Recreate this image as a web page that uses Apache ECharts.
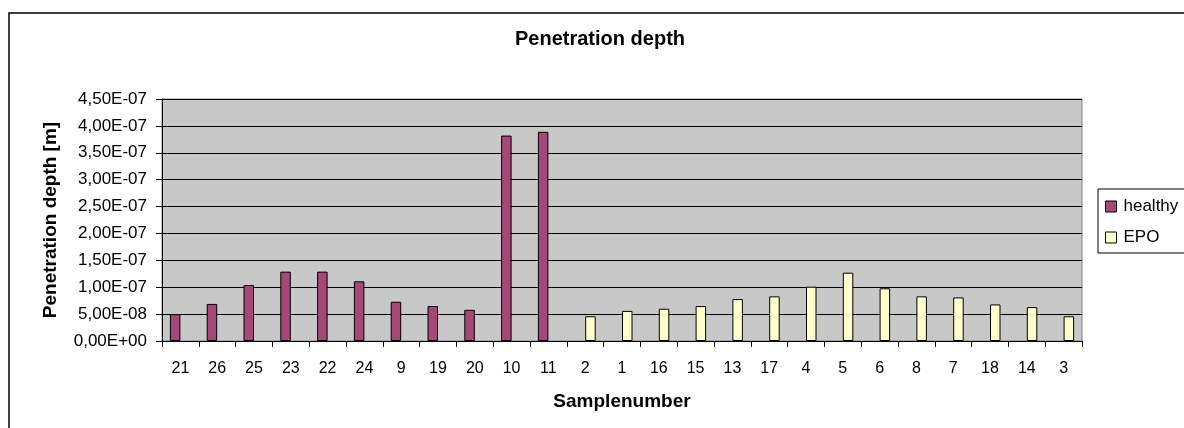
<!DOCTYPE html>
<html>
<head>
    <meta charset="utf-8">
    <title>Penetration depth</title>
    <script src="https://cdn.jsdelivr.net/npm/echarts@6/dist/echarts.min.js"></script>
    <style>
        html, body { margin: 0; padding: 0; background: #fff; }
        #main { width: 1184px; height: 428px; }
    </style>
</head>
<body>
<div id="main"></div>
<script>
    // sample numbers, in the order they appear on the x axis
    var categories = ['21', '26', '25', '23', '22', '24', '9', '19', '20', '10', '11',
        '2', '1', '16', '15', '13', '17', '4', '5', '6', '8', '7', '18', '14', '3'];
    // penetration depth [m]
    var healthy = [5.0e-8, 6.9e-8, 1.04e-7, 1.29e-7, 1.29e-7, 1.11e-7, 7.3e-8, 6.5e-8, 5.8e-8, 3.82e-7, 3.89e-7,
        null, null, null, null, null, null, null, null, null, null, null, null, null, null];
    var epo = [null, null, null, null, null, null, null, null, null, null, null,
        4.6e-8, 5.6e-8, 6.0e-8, 6.5e-8, 7.8e-8, 8.3e-8, 1.01e-7, 1.27e-7, 9.8e-8, 8.3e-8, 8.1e-8, 6.8e-8, 6.3e-8, 4.6e-8];
    var yMin = 0, yMax = 4.5e-7, yStep = 5e-8;

    var font = '"Liberation Sans", Arial, sans-serif';

    // excel style 0,00E+00
    function sciLabel(v) {
        var parts = Number(v).toExponential(2).split('e');
        var exp = parseInt(parts[1], 10);
        var sign = exp < 0 ? '-' : '+';
        var e = Math.abs(exp);
        return parts[0].replace('.', ',') + 'E' + sign + (e < 10 ? '0' + e : e);
    }

    var myChart = echarts.init(document.getElementById('main'), null, {renderer: 'canvas'});

    var option = {
        backgroundColor: '#fff',
        animation: false,
        textStyle: {fontFamily: font},
        graphic: [{
            type: 'rect',
            shape: {x: 9, y: 13, width: 1300, height: 600},
            style: {fill: 'none', stroke: '#000', lineWidth: 1.5},
            silent: true
        }],
        title: {
            text: 'Penetration depth',
            left: 515,
            top: 29,
            padding: 0,
            textStyle: {fontFamily: font, fontSize: 20, fontWeight: 'bold', color: '#000', lineHeight: 20}
        },
        legend: {
            orient: 'vertical',
            left: 1098,
            top: 189,
            padding: [9, 30, 7, 7],
            itemWidth: 11,
            itemHeight: 11,
            itemGap: 14,
            borderColor: '#000',
            borderWidth: 1,
            backgroundColor: '#fff',
            textStyle: {fontFamily: font, fontSize: 17, color: '#000', lineHeight: 16, padding: [0, 0, 0, 2]},
            data: [
                {name: 'healthy', icon: 'rect', itemStyle: {borderColor: '#000', borderWidth: 1}},
                {name: 'EPO', icon: 'rect', itemStyle: {borderColor: '#000', borderWidth: 1}}
            ]
        },
        grid: {
            left: 162,
            right: 102,
            top: 99,
            bottom: 87,
            show: true,
            backgroundColor: '#C8C8C8',
            borderColor: '#808080',
            borderWidth: 1
        },
        xAxis: {
            type: 'category',
            data: categories,
            name: 'Samplenumber',
            nameLocation: 'middle',
            nameGap: 51,
            nameTextStyle: {fontFamily: font, fontSize: 19, fontWeight: 'bold', color: '#000'},
            axisLine: {lineStyle: {color: '#000', width: 1}},
            axisTick: {show: true, length: 6, interval: 0, lineStyle: {color: '#000'}},
            axisLabel: {fontFamily: font, fontSize: 16, color: '#000', margin: 20, interval: 0, lineHeight: 16}
        },
        yAxis: {
            type: 'value',
            min: yMin,
            max: yMax,
            interval: yStep,
            name: 'Penetration depth [m]',
            nameLocation: 'middle',
            nameGap: 102,
            nameTextStyle: {fontFamily: font, fontSize: 19, fontWeight: 'bold', color: '#000'},
            axisLine: {show: true, lineStyle: {color: '#000', width: 1}},
            axisTick: {show: true, length: 6, lineStyle: {color: '#000'}},
            axisLabel: {fontFamily: font, fontSize: 17, color: '#000', margin: 15, formatter: sciLabel},
            splitLine: {show: true, lineStyle: {color: '#000', width: 1}}
        },
        series: [
            {
                name: 'healthy',
                type: 'bar',
                data: healthy,
                barWidth: 10.5,
                barGap: '0%',
                itemStyle: {color: '#A34877', borderColor: '#000', borderWidth: 1}
            },
            {
                name: 'EPO',
                type: 'bar',
                data: epo,
                barWidth: 10.5,
                barGap: '0%',
                itemStyle: {color: '#FFFFCC', borderColor: '#000', borderWidth: 1}
            }
        ]
    };
    myChart.setOption(option);
</script>
</body>
</html>
